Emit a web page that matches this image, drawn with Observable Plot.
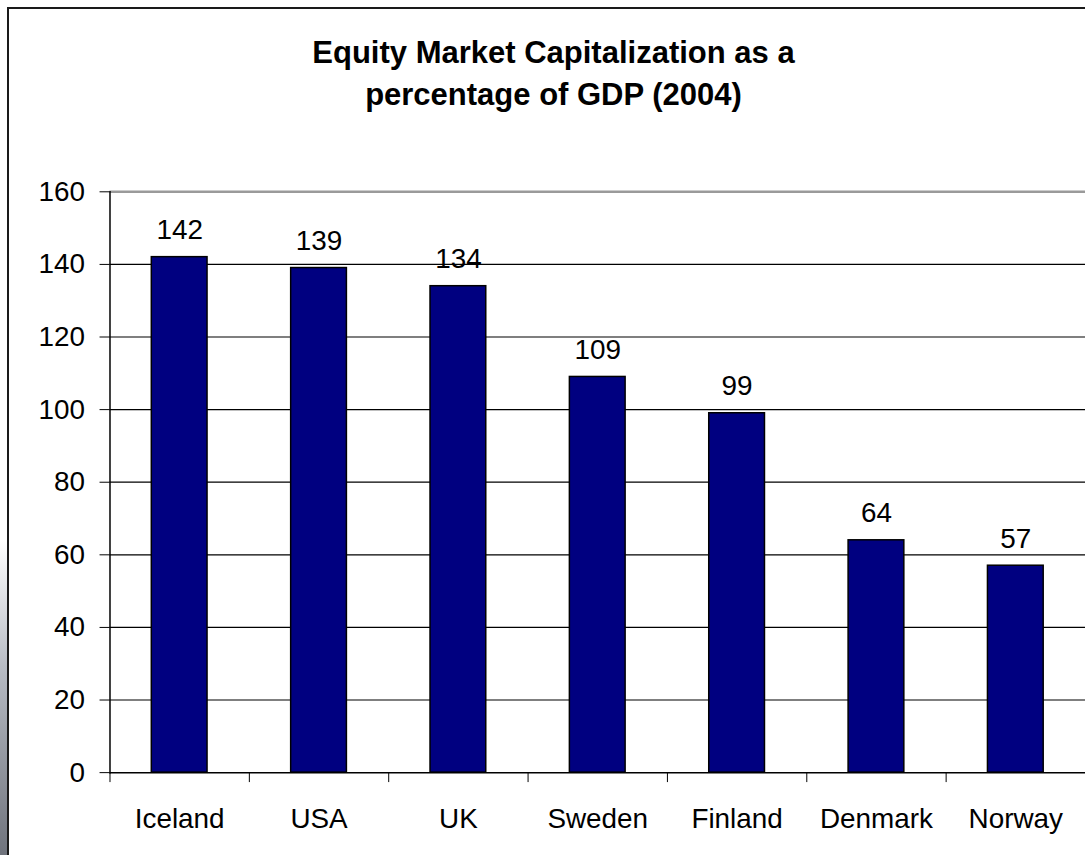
<!DOCTYPE html>
<html>
<head>
<meta charset="utf-8">
<script src="https://cdn.jsdelivr.net/npm/d3@7"></script>
<script src="https://cdn.jsdelivr.net/npm/@observablehq/plot@0.6"></script>
<style>
  html, body { margin: 0; padding: 0; overflow: hidden; background: #fff; }
  #wrap { position: relative; width: 1085px; height: 855px; overflow: hidden; background: #fff;
          font-family: "Liberation Sans", Arial, sans-serif; }
  #border { position: absolute; left: 7px; top: 7px; width: 1200px; height: 1000px;
            border-left: 2px solid #1a1a1a; border-top: 2px solid #1a1a1a; }
  #strip { position: absolute; left: 0; top: 540px; width: 7px; height: 315px;
           background: linear-gradient(to bottom, #ffffff, #b8bcc4 40%, #6f737c); }
  #title { position: absolute; left: 0; top: 32px; width: 1107px; text-align: center;
           font-weight: bold; font-size: 31px; line-height: 42px; color: #000; }
  #chart { position: absolute; left: 0; top: 150px; }
</style>
</head>
<body>
<div id="wrap">
  <div id="strip"></div>
  <div id="border"></div>
  <div id="title">Equity Market Capitalization as a<br>percentage of GDP (2004)</div>
  <div id="chart"></div>
</div>
<script>
const countries = ["Iceland", "USA", "UK", "Sweden", "Finland", "Denmark", "Norway"];
const values = [142, 139, 134, 109, 99, 64, 57];
const yTicks = [0, 20, 40, 60, 80, 100, 120, 140, 160];
const blackGrid = [20, 40, 60, 80, 100, 120, 140];
const topGrid = [160];

const data = countries.map((c, i) => ({country: c, value: values[i]}));

const chart = Plot.plot({
  width: 1090,
  height: 705,
  marginLeft: 110,
  marginRight: 0,
  marginTop: 41.5,
  marginBottom: 80,
  style: {fontFamily: '"Liberation Sans", Arial, sans-serif', fontSize: "28px", color: "#000", background: "transparent", overflow: "visible"},
  x: {domain: countries, paddingInner: 0.6, paddingOuter: 0.3, label: null},
  y: {domain: [0, 160], label: null},
  marks: [
    Plot.ruleY(blackGrid, {stroke: "#000", strokeWidth: 1.2}),
    Plot.ruleY(topGrid, {stroke: "#9a9a9a", strokeWidth: 2.5}),
    Plot.barY(data, {x: "country", y: "value", fill: "#000080", stroke: "#000", strokeWidth: 1.5}),
    Plot.text(data, {x: "country", y: "value", text: d => String(d.value), lineAnchor: "bottom", dy: -18, fontSize: 28, fill: "#000"}),
    Plot.ruleY([0], {stroke: "#000", strokeWidth: 1.5}),
    Plot.frame({anchor: "left", stroke: "#000", strokeWidth: 1.5}),
    Plot.axisY(yTicks, {tickSize: 10, tickPadding: 15, fontSize: 28, stroke: "#000", fill: "#000", label: null}),
    Plot.axisX({tickSize: 0, tickPadding: 36, fontSize: 28, fill: "#000", label: null}),
    Plot.axisX({tickSize: 10, text: null, dx: -70, stroke: "#000", label: null})
  ]
});
document.getElementById("chart").appendChild(chart);
</script>
</body>
</html>
